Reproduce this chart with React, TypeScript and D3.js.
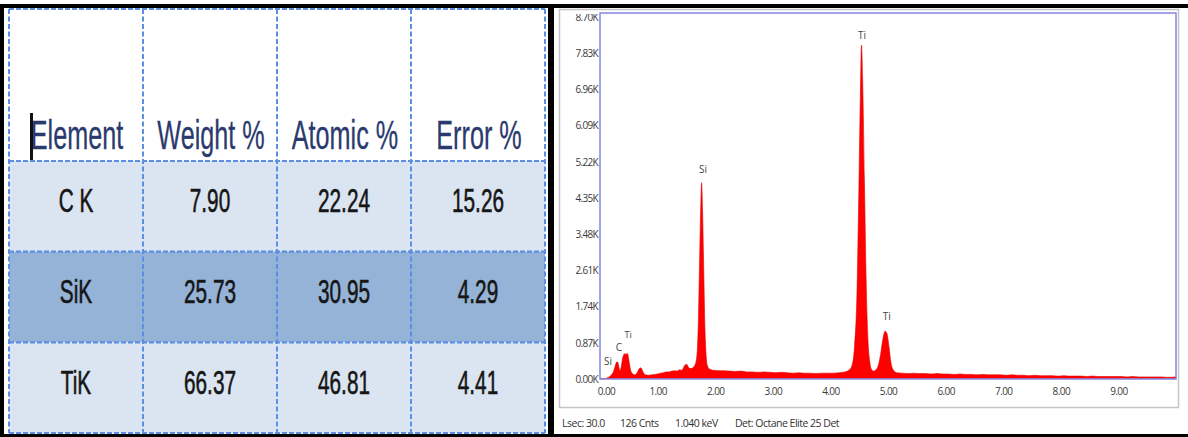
import React, { useEffect, useRef } from "react";
import * as d3 from "d3";

// ---- EDS quantification table ----
const columns = ["Element", "Weight %", "Atomic %", "Error %"];
const elements = ["C K", "SiK", "TiK"];
const weightPct = [7.9, 25.73, 66.37];
const atomicPct = [22.24, 30.95, 46.81];
const errorPct = [15.26, 4.29, 4.41];
const rowFills = ["#dbe5f1", "#95b3d7", "#dbe5f1"];

// ---- EDS spectrum (energy in keV, counts in thousands) ----
const energyKeV = [
  0.0, 0.08, 0.15, 0.2, 0.24, 0.27, 0.29, 0.31, 0.33, 0.35, 0.37, 0.39, 0.41, 0.43, 0.45, 0.47,
  0.49, 0.51, 0.53, 0.56, 0.6, 0.64, 0.67, 0.7, 0.72, 0.75, 0.79, 0.85, 0.9, 0.95, 1.0, 1.05,
  1.1, 1.15, 1.2, 1.25, 1.3, 1.34, 1.38, 1.41, 1.44, 1.46, 1.48, 1.51, 1.54, 1.58, 1.62, 1.66,
  1.69, 1.71, 1.73, 1.75, 1.765, 1.78, 1.8, 1.82, 1.84, 1.86, 1.9, 1.96, 2.05, 2.15, 2.25, 2.35,
  2.45, 2.55, 2.65, 2.75, 2.85, 2.95, 3.05, 3.15, 3.25, 3.35, 3.45, 3.55, 3.65, 3.75, 3.85, 3.95,
  4.05, 4.15, 4.25, 4.33, 4.38, 4.42, 4.46, 4.49, 4.52, 4.54, 4.56, 4.59, 4.62, 4.65, 4.68, 4.71,
  4.75, 4.79, 4.83, 4.87, 4.91, 4.95, 4.98, 5.02, 5.05, 5.09, 5.15, 5.25, 5.35, 5.45, 5.55, 5.65,
  5.75, 5.85, 5.95, 6.05, 6.15, 6.25, 6.35, 6.45, 6.55, 6.65, 6.75, 6.85, 6.95, 7.05, 7.15, 7.25,
  7.35, 7.45, 7.55, 7.65, 7.75, 7.85, 7.95, 8.05, 8.15, 8.25, 8.35, 8.45, 8.55, 8.65, 8.75, 8.85,
  8.95, 9.05, 9.15, 9.25, 9.35, 9.45, 9.55, 9.65, 9.75, 9.85, 10.0,
];
const countsK = [
  0.0, 0.01, 0.04, 0.1, 0.2, 0.34, 0.41, 0.4, 0.27, 0.2, 0.3, 0.48, 0.58, 0.61, 0.59, 0.62,
  0.55, 0.38, 0.22, 0.13, 0.1, 0.14, 0.22, 0.27, 0.25, 0.16, 0.1, 0.09, 0.1, 0.11, 0.12, 0.14,
  0.15, 0.17, 0.17, 0.19, 0.2, 0.19, 0.22, 0.21, 0.24, 0.3, 0.34, 0.35, 0.27, 0.25, 0.28, 0.38,
  0.7, 1.5, 2.9, 4.2, 4.72, 4.1, 2.7, 1.3, 0.62, 0.34, 0.24, 0.21, 0.2, 0.2, 0.19, 0.18,
  0.19, 0.17, 0.17, 0.16, 0.17, 0.16, 0.15, 0.16, 0.15, 0.14, 0.15, 0.14, 0.14, 0.13, 0.14, 0.14,
  0.14, 0.15, 0.17, 0.22, 0.35, 0.8, 2.0, 4.2, 6.8, 8.03, 7.2, 4.8, 2.4, 1.0, 0.45, 0.24,
  0.19, 0.22, 0.32, 0.58, 0.95, 1.15, 1.1, 0.75, 0.4, 0.22, 0.15, 0.14, 0.13, 0.14, 0.13, 0.13,
  0.12, 0.13, 0.12, 0.12, 0.11, 0.12, 0.11, 0.11, 0.1, 0.11, 0.1, 0.1, 0.1, 0.09, 0.1, 0.09,
  0.09, 0.08, 0.09, 0.08, 0.08, 0.08, 0.07, 0.08, 0.07, 0.07, 0.07, 0.06, 0.07, 0.06, 0.06, 0.06,
  0.06, 0.06, 0.05, 0.06, 0.05, 0.05, 0.05, 0.05, 0.05, 0.04, 0.05,
];

const yTicksK = [0, 0.87, 1.74, 2.61, 3.48, 4.35, 5.22, 6.09, 6.96, 7.83, 8.7];
const xTicksKeV = [0, 1, 2, 3, 4, 5, 6, 7, 8, 9];

// Peak identification labels (energy keV, height in K counts)
const peakLabelText = ["Si", "C", "Ti", "Si", "Ti", "Ti"];
const peakLabelKeV = [0.14, 0.33, 0.49, 1.79, 4.55, 4.98];
const peakLabelK = [0.43, 0.75, 1.06, 5.03, 8.25, 1.51];

const footerItems = ["Lsec: 30.0", "126 Cnts", "1.040 keV", "Det: Octane Elite 25 Det"];
const footerX = [562, 620, 675, 735];

const W = 1188;
const H = 437;

// Spectrum plot frame
const PL = 600;
const PR = 1176;
const PT = 13;
const PB = 379;

const tableFont = "'Liberation Sans', Arial, sans-serif";
const specFont = "'Open Sans', 'Noto Sans', sans-serif";

export default function App() {
  const xAxisRef = useRef<SVGGElement>(null);
  const yAxisRef = useRef<SVGGElement>(null);

  const colX = d3.scaleBand<string>().domain(columns).range([9, 545]);
  const rowY = d3.scaleBand<string>().domain(elements).range([161, 433]);

  const x = d3.scaleLinear().domain([0, 10]).range([PL, PR]);
  const y = d3.scaleLinear().domain([0, 8.8]).range([PB, PT]);

  const spectrum = energyKeV.map((e, i) => [e, countsK[i]] as [number, number]);
  const area = d3
    .area<[number, number]>()
    .x((d) => x(d[0]))
    .y0(PB - 0.5)
    .y1((d) => y(d[1]))
    .curve(d3.curveMonotoneX);

  useEffect(() => {
    if (xAxisRef.current) {
      const g = d3.select(xAxisRef.current);
      g.selectAll("*").remove();
      g.call(
        d3
          .axisBottom(x)
          .tickValues(xTicksKeV)
          .tickSize(0)
          .tickPadding(9)
          .tickFormat((d) => (d as number).toFixed(2))
      );
      g.select(".domain").remove();
      g.selectAll("text")
        .attr("fill", "#3a3a3a")
        .attr("font-family", specFont)
        .attr("font-size", 10)
        .attr("letter-spacing", "-0.6px")
        .attr("dx", (_d, i) => (i === 0 ? 6 : 0));
    }
    if (yAxisRef.current) {
      const g = d3.select(yAxisRef.current);
      g.selectAll("*").remove();
      g.call(
        d3
          .axisLeft(y)
          .tickValues(yTicksK)
          .tickSize(0)
          .tickPadding(1)
          .tickFormat((d) => `${(d as number).toFixed(2)}K`)
      );
      g.select(".domain").remove();
      g.selectAll("text")
        .attr("fill", "#3a3a3a")
        .attr("font-family", specFont)
        .attr("font-size", 10)
        .attr("letter-spacing", "-0.7px");
    }
  }, []);

  const cellText = (
    txt: string,
    cx: number,
    baseline: number,
    size: number,
    fill: string,
    weight: number
  ) => (
    <text
      key={`${txt}-${cx}-${baseline}`}
      transform={`translate(${cx},${baseline}) scale(0.63,1)`}
      textAnchor="middle"
      fontFamily={tableFont}
      fontSize={size}
      fill={fill}
      stroke={fill}
      strokeWidth={weight}
    >
      {txt}
    </text>
  );

  const rowsValues = elements.map((el, i) => [
    el,
    weightPct[i].toFixed(2),
    atomicPct[i].toFixed(2),
    errorPct[i].toFixed(2),
  ]);

  const bw = colX.bandwidth();
  const bh = rowY.bandwidth();
  const vLines = [...columns.map((c) => colX(c)!), 545];
  const hLines = [9, ...elements.map((e) => rowY(e)!), 433];

  return (
    <svg
      width={W}
      height={H}
      style={{ position: "absolute", left: 0, top: 0, background: "#fff" }}
    >
      <defs>
        <clipPath id="ylab-clip">
          <rect x={555} y={14} width={50} height={380} />
        </clipPath>
      </defs>

      {/* ---------- table panel ---------- */}
      <rect x={9} y={9} width={536} height={152} fill="#ffffff" />
      {elements.map((el, i) => (
        <rect key={el} x={9} y={rowY(el)!} width={536} height={bh} fill={rowFills[i]} />
      ))}
      {vLines.map((vx, i) => (
        <line
          key={`v${i}`}
          x1={vx}
          x2={vx}
          y1={9}
          y2={433}
          stroke="#5b8fe3"
          strokeWidth={2}
          strokeDasharray="5,2.5"
        />
      ))}
      {hLines.map((hy, i) => (
        <line
          key={`h${i}`}
          x1={9}
          x2={545}
          y1={hy}
          y2={hy}
          stroke="#5b8fe3"
          strokeWidth={2.2}
          strokeDasharray="5,2"
        />
      ))}
      {columns.map((c) => cellText(c, colX(c)! + bw / 2 + 1, 149, 40, "#2b3a6e", 0.3))}
      {/* text cursor in the header cell */}
      <rect x={30} y={113} width={3} height={47} fill="#111" />
      {rowsValues.map((vals, r) =>
        vals.map((v, c) =>
          cellText(
            v,
            colX(columns[c])! + bw / 2,
            rowY(elements[r])! + bh / 2 + 6,
            33,
            "#161616",
            0.6
          )
        )
      )}
      {/* black frames */}
      <rect x={0} y={4} width={4} height={433} fill="#000" />
      <rect x={0} y={4} width={W} height={4} fill="#000" />
      <rect x={0} y={434} width={W} height={3} fill="#000" />
      <rect x={548} y={4} width={6} height={433} fill="#000" />

      {/* ---------- spectrum panel ---------- */}
      <rect x={559.5} y={9.5} width={619} height={398} fill="#fff" stroke="#c4c4c4" strokeWidth={1.5} />
      <path d={area(spectrum) ?? ""} fill="#ff0000" stroke="#e00000" strokeWidth={0.6} />
      <rect
        x={PL}
        y={PT}
        width={PR - PL}
        height={PB - PT}
        fill="none"
        stroke="#8585e0"
        strokeWidth={1.5}
      />
      <g ref={xAxisRef} transform={`translate(0,${PB})`} />
      <g clipPath="url(#ylab-clip)">
        <g ref={yAxisRef} transform={`translate(${PL - 1},0)`} />
      </g>
      {peakLabelText.map((t, i) => (
        <text
          key={`pk${i}`}
          x={x(peakLabelKeV[i])}
          y={y(peakLabelK[i])}
          dy="0.35em"
          textAnchor="middle"
          fontFamily={specFont}
          fontSize={i === 2 ? 9 : 10}
          fill="#444"
        >
          {t}
        </text>
      ))}
      {footerItems.map((t, i) => (
        <text
          key={t}
          x={footerX[i]}
          y={427}
          fontFamily={specFont}
          fontSize={10.5}
          letterSpacing="-0.5px"
          fill="#333"
        >
          {t}
        </text>
      ))}
    </svg>
  );
}
